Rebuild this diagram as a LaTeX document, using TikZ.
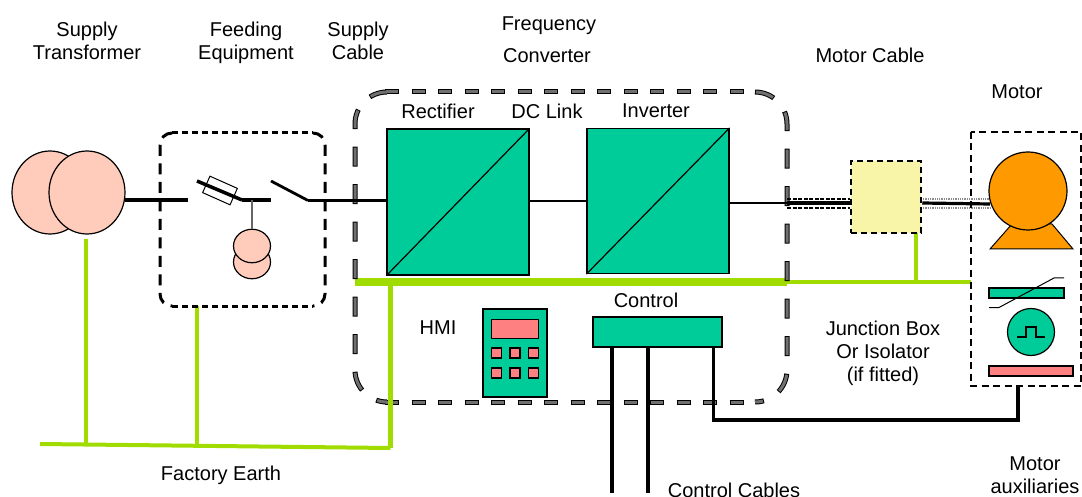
\documentclass[tikz,border=0pt]{standalone}
\usepackage{fontspec}
\setmainfont{Liberation Sans}
\usetikzlibrary{shapes.geometric}

\tikzset{
  label/.style={inner sep=0pt,align=center,font=\fontsize{20}{23}\selectfont},
  teal/.style={draw=black,line width=1.2pt,fill=tealgreen,inner sep=0pt},
  red/.style={draw=black,line width=1.2pt,fill=pinkred,inner sep=0pt},
  salmon/.style={ellipse,draw=black,line width=1.2pt,fill=peach,inner sep=0pt},
  earth/.style={draw=earthgreen,line width=4pt},
  earthbus/.style={draw=earthgreen,line width=8pt},
  wire/.style={draw=black,line width=2.8pt},
  cable/.style={draw=black,line width=3.2pt},
  bigdashH/.style={draw=black,line width=5pt,dash pattern=on 14pt off 12.5pt},
  bigdashV/.style={draw=black,line width=5pt,dash pattern=on 20pt off 17.5pt},
  bigfillH/.style={draw=dashgrey,line width=3pt,dash pattern=on 12pt off 14.5pt,dash phase=-1pt},
  bigfillV/.style={draw=dashgrey,line width=3pt,dash pattern=on 18pt off 19.5pt,dash phase=-1pt},
  feedH/.style={draw=black,line width=3pt,dash pattern=on 6pt off 4pt},
  feedV/.style={draw=black,line width=3pt,dash pattern=on 11pt off 7.5pt},
}
\definecolor{tealgreen}{HTML}{00CC99}
\definecolor{pinkred}{HTML}{FF8080}
\definecolor{peach}{HTML}{FFCCBB}
\definecolor{earthgreen}{HTML}{A0DC00}
\definecolor{dashgrey}{HTML}{707070}
\definecolor{orangemotor}{HTML}{FF9900}
\definecolor{paleyellow}{HTML}{F8F4A8}

\begin{document}
\begin{tikzpicture}[x=1pt,y=-1pt]
\useasboundingbox (0,0) rectangle (1082,497);

%%%% earth
\coordinate (earthW) at (40,444);
\coordinate (earthE) at (390.5,448);
\coordinate (earthT) at (86,445);
\coordinate (earthTtop) at (86,239);
\coordinate (earthF) at (197,446);
\coordinate (earthFtop) at (197,306);
\coordinate (busW) at (355,282);
\coordinate (busM) at (787,282);
\coordinate (busE) at (971,282);
\coordinate (busC) at (390.5,282);
\coordinate (busJ) at (916,282);
\coordinate (busJtop) at (916,233);
\draw[earth] (earthW) -- (earthE);
\draw[earth] (earthTtop) -- (earthT);
\draw[earth] (earthFtop) -- (earthF);
\draw[earth] (busM) -- (busE);
\draw[earth] (busJtop) -- (busJ);
\draw[earthbus] (busW) -- (busM);

%%%% feeding equipment
\draw[feedH] (172,133) -- (313,133);
\draw[feedH] (172,306) -- (313,306);
\draw[feedV,rounded corners=12pt] (172,133) -- (160,133) -- (160,306) -- (172,306);
\draw[feedV,rounded corners=12pt] (313,133) -- (325,133) -- (325,306) -- (313,306);

%%%% supply transformer
\node[salmon,minimum width=76pt,minimum height=83pt] (xfmrA) at (50,192.5) {};
\node[salmon,minimum width=76pt,minimum height=83pt] (xfmrB) at (87,192.5) {};

%%%% feeder with fuse and switch
\coordinate (lineA) at (125,200);
\coordinate (lineB) at (188,200);
\coordinate (fuseL) at (197,181);
\coordinate (fuseR) at (242,200);
\coordinate (tapT) at (252,200);
\coordinate (lineC) at (271,200);
\coordinate (swL) at (271,181);
\coordinate (swR) at (308,200.5);
\draw[line width=4pt] (lineA) -- (lineB);
\node[draw=black,line width=1pt,fill=white,rotate=-24,minimum width=30pt,minimum height=18pt,inner sep=0pt] (fuse) at (220,190.5) {};
\draw[line width=3.5pt] (fuseL) -- (fuseR);
\draw[line width=4pt] (fuseR) -- (lineC);
\draw[wire] (swL) -- (swR);

%% auxiliary transformer
\node[salmon,minimum width=37pt,minimum height=33.5pt] (auxB) at (252,262) {};
\node[salmon,minimum width=37pt,minimum height=33.5pt] (auxA) at (252,246) {};
\draw[draw=black!60,line width=1.5pt] (tapT) -- (auxA.north);

%%%% frequency converter
\draw[bigdashH] (385,92) -- (755,92);
\draw[bigdashH] (385,402) -- (755,402);
\draw[bigdashV,rounded corners=32pt] (385,92) -- (355,92) -- (355,402) -- (385,402);
\draw[bigdashV,rounded corners=32pt] (755,92) -- (787,92) -- (787,402) -- (755,402);
\draw[bigfillH] (385,92) -- (755,92);
\draw[bigfillH] (385,402) -- (755,402);
\draw[bigfillV,rounded corners=32pt] (385,92) -- (355,92) -- (355,402) -- (385,402);
\draw[bigfillV,rounded corners=32pt] (755,92) -- (787,92) -- (787,402) -- (755,402);
\draw[earth,line width=5pt] (busC) -- (earthE);

\node[teal,minimum width=142pt,minimum height=146pt] (rectifier) at (458,202) {};
\node[teal,minimum width=142pt,minimum height=145pt] (inverter) at (658,201) {};
\draw[line width=1.2pt] (rectifier.south west) -- (rectifier.north east);
\draw[line width=1.2pt] (inverter.south west) -- (inverter.north east);
\draw[wire] (swR) -- (rectifier.west |- swR);
\draw[wire] (rectifier.east |- inverter.west) -- (inverter.west);

%% hmi
\node[teal,minimum width=64pt,minimum height=88pt] (hmi) at (515,353) {};
\node[red,minimum width=47pt,minimum height=19pt] (screen) at (515,329) {};
\foreach \bx/\bn in {496.5/a,515/b,533.5/c} {
  \node[red,minimum width=10pt,minimum height=10pt] (key\bn1) at (\bx,353) {};
  \node[red,minimum width=10pt,minimum height=10pt] (key\bn2) at (\bx,373) {};
}

%% control
\node[teal,minimum width=129pt,minimum height=30pt] (control) at (657.5,332) {};
\coordinate (cableA) at (612,493);
\coordinate (cableB) at (648,493);
\draw[cable] (control.south -| cableA) -- (cableA);
\draw[cable] (control.south -| cableB) -- (cableB);

%%%% motor side
\coordinate (auxcorner) at (713.5,420);
\coordinate (auxtop) at (1018,386);
\coordinate (auxend) at (1018,420);
\draw[cable] (control.south -| auxcorner) -- (auxcorner) -- (auxend) -- (auxtop);

%% junction box
\node[draw=black,line width=2.5pt,dash pattern=on 6pt off 4pt,fill=paleyellow,minimum width=70pt,minimum height=72pt,inner sep=0pt] (junction) at (886,197) {};
\coordinate (cableI) at (729,203);
\coordinate (cableM) at (787,203);
\draw[wire] (cableI) -- (cableM);
\draw[cable] (cableM) -- (junction.west |- cableM);
\draw[black,line width=1.3pt,dash pattern=on 4pt off 1.5pt] (cableM |- 0,199) -- (junction.west |- 0,199);
\draw[black,line width=1.3pt,dash pattern=on 4pt off 1.5pt] (cableM |- 0,208) -- (junction.west |- 0,208);

%% motor
\coordinate (feetNW) at (1012,224);
\coordinate (feetNE) at (1052,224);
\draw[draw=black,line width=1pt,fill=orangemotor] (990,249) -- (feetNW) -- (feetNE) -- (1073,249) -- cycle;
\draw[cable] (junction.east |- cableM) -- (990,204);
\draw[black!45,line width=1.3pt,densely dotted] (923,199) -- (990,199);
\draw[black!45,line width=1.3pt,densely dotted] (923,208) -- (990,208);
\node[circle,draw=black,line width=1.2pt,fill=orangemotor,minimum size=78pt,inner sep=0pt] (motor) at (1028,191) {};

\draw[black,line width=2.5pt,dash pattern=on 7pt off 4.5pt] (971,132) rectangle (1081,386);

\node[teal,minimum width=75pt,minimum height=10pt] (tachobar) at (1026.5,293) {};
\draw[line width=1pt] (989,307.5) -- (999,307.5) -- (1054,278) -- (1064,278);
\node[circle,teal,minimum size=47pt] (pulse) at (1031,332) {};
\draw[line width=1.2pt] (1017,337) -- (1026,337) -- (1026,327) -- (1036,327) -- (1036,337) -- (1045,337);
\node[red,minimum width=84pt,minimum height=10pt] (redbar) at (1031,371) {};

%%%% labels
\node[label] (lbxfmr) at (87,41) {Supply\\Transformer};
\node[label] (lbfeed) at (246,43) {Feeding\\Equipment};
\node[label] (lbcable) at (358,41) {Supply\\Cable};
\node[label] (lbfreq) at (549,26) {Frequency};
\node[label] (lbconv) at (547,55.5) {Converter};
\node[label] (lbmcable) at (870,55) {Motor Cable};
\node[label] (lbmotor) at (1017,91.5) {Motor};
\node[label] (lbrect) at (438,111) {Rectifier};
\node[label] (lbdc) at (547,111) {DC Link};
\node[label] (lbinv) at (656,111) {Inverter};
\node[label] (lbhmi) at (438,328) {HMI};
\node[label] (lbctrl) at (646,300) {Control};
\node[label] (lbjunc) at (883,353) {Junction Box\\Or Isolator\\(if fitted)};
\node[label] (lbearth) at (221,475) {Factory Earth};
\node[label] (lbccable) at (734,490) {Control Cables};
\node[label] (lbaux) at (1035,475) {Motor\\auxiliaries};

\end{tikzpicture}
\end{document}
